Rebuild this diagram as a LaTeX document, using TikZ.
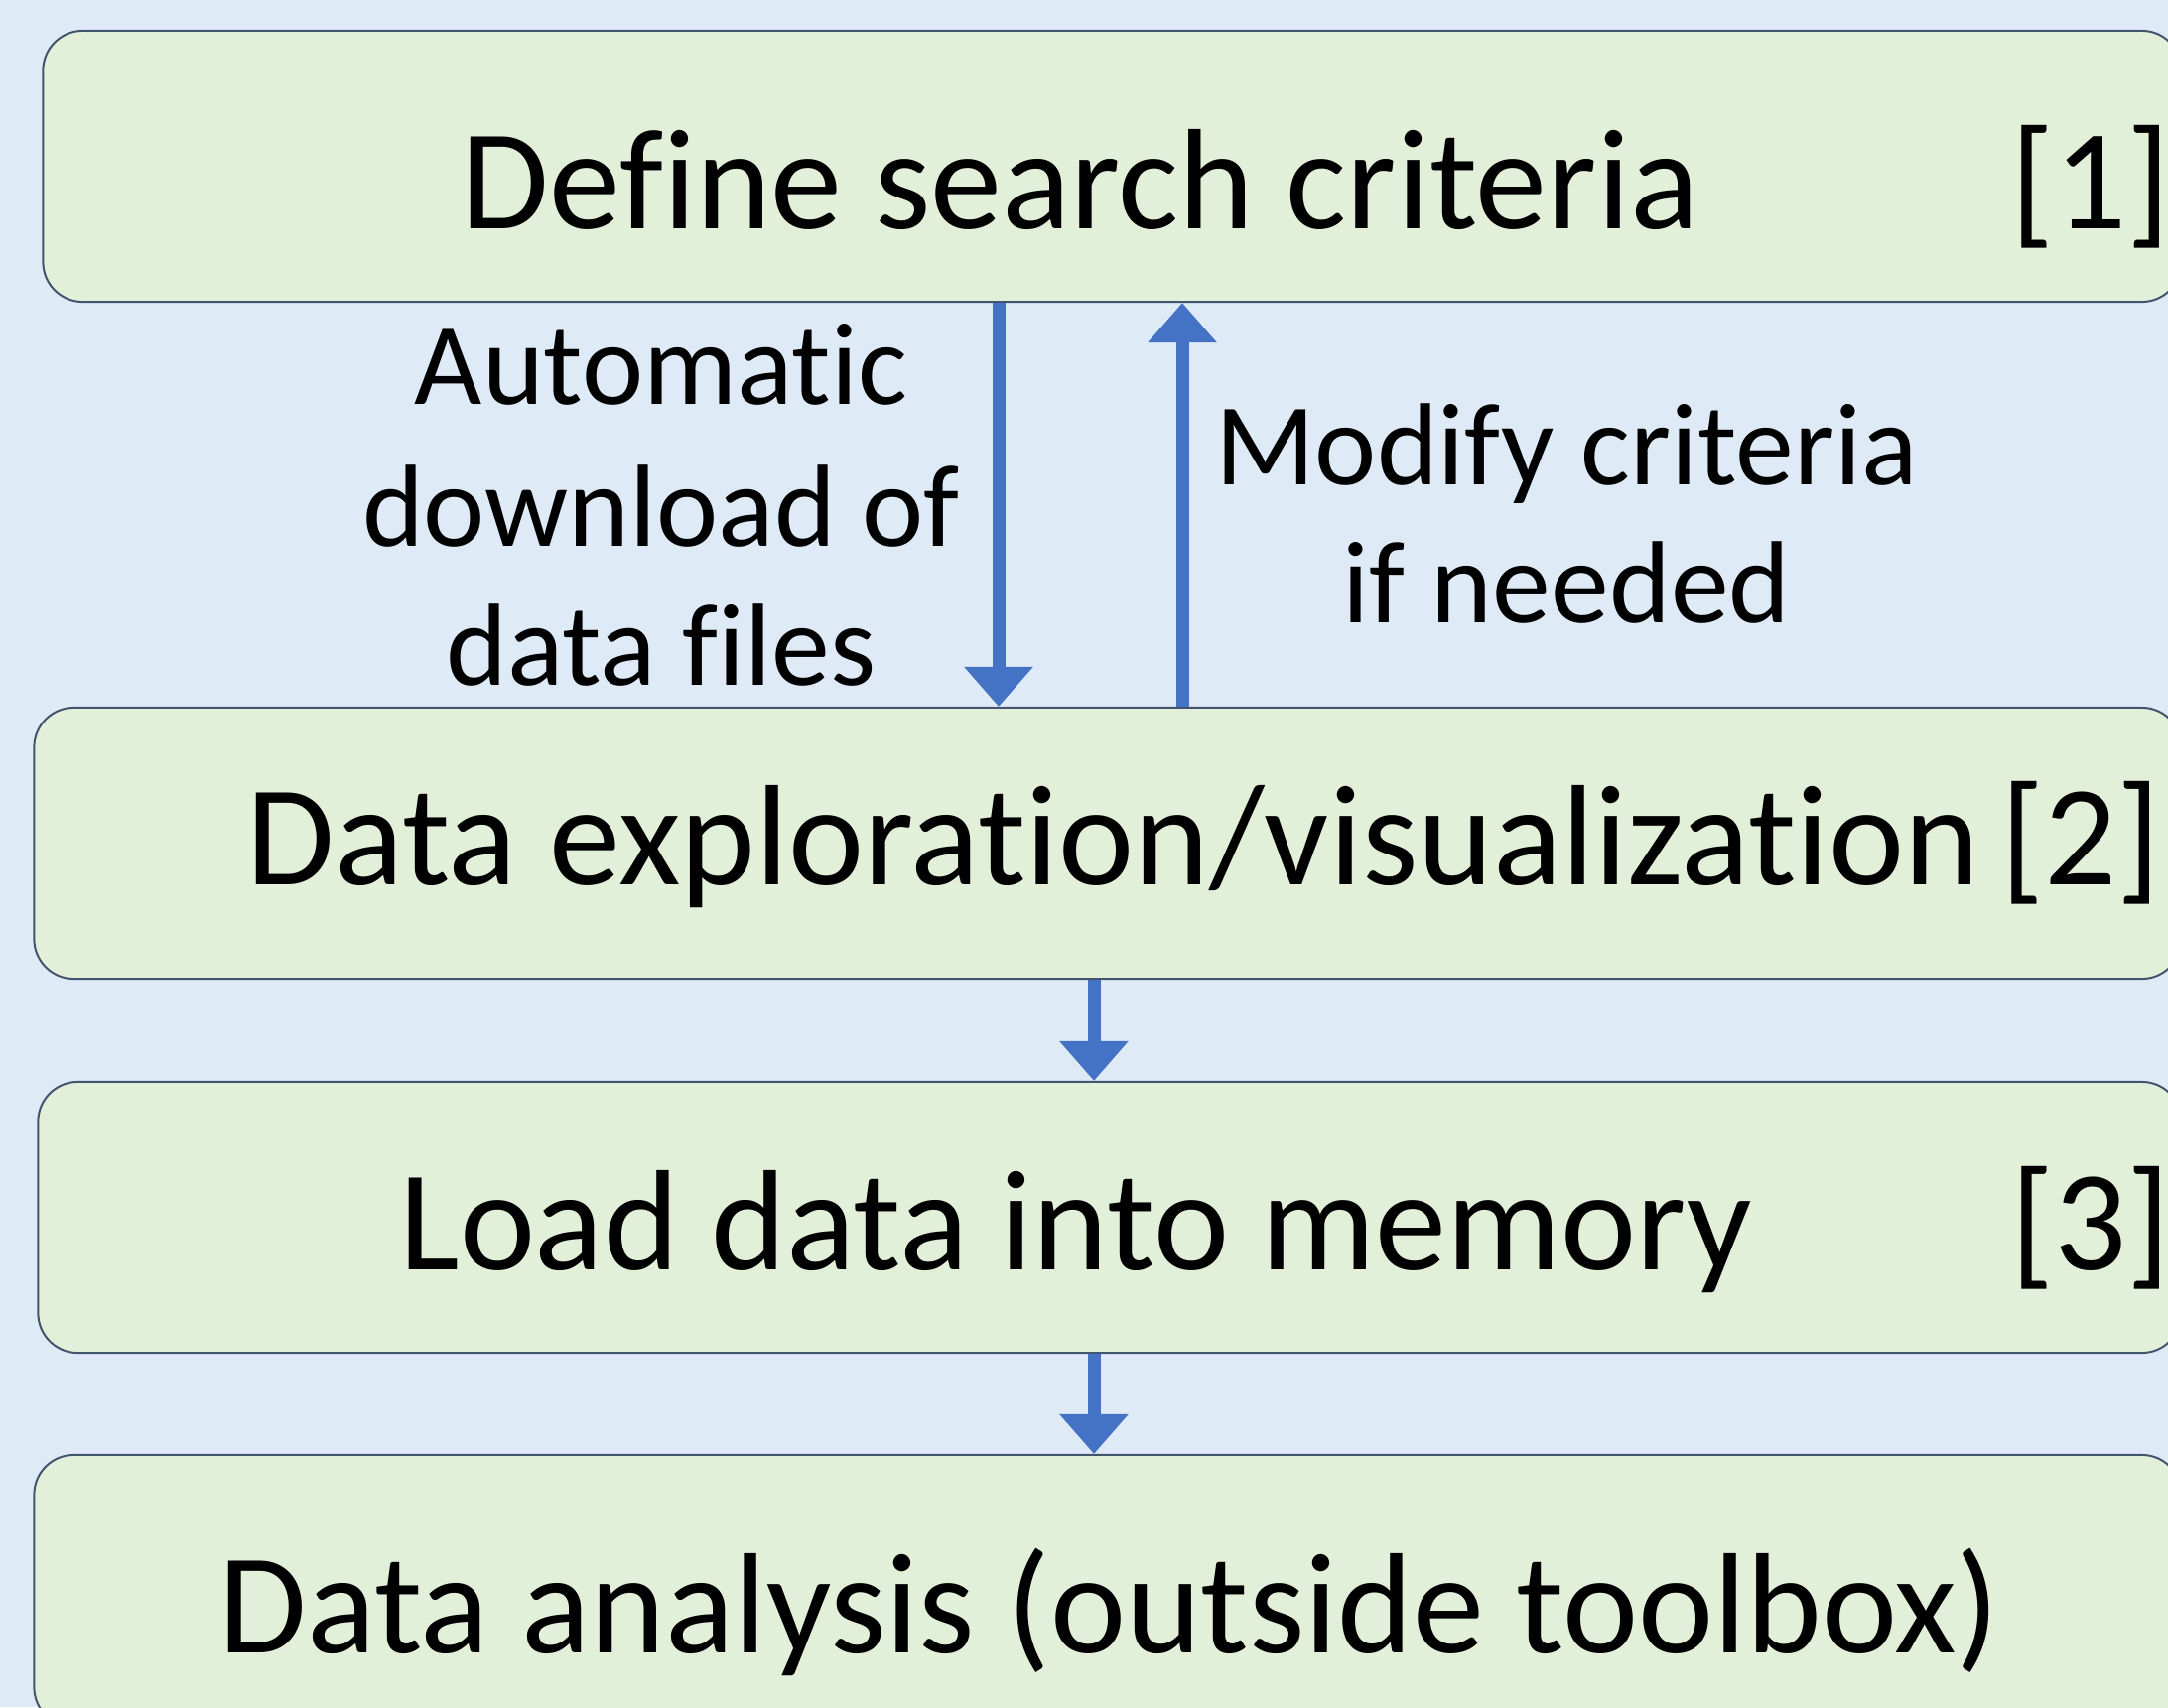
\documentclass[tikz,border=0pt]{standalone}
\usepackage{fontspec}
\setmainfont{Carlito}[Ligatures=NoCommon]
\usetikzlibrary{arrows.meta}
\definecolor{bgblue}{RGB}{222,235,247}
\definecolor{boxgreen}{RGB}{226,239,217}
\definecolor{boxline}{RGB}{68,84,110}
\definecolor{arrowblue}{RGB}{68,114,196}
\tikzset{
  stepbox/.style={rectangle, rounded corners=0.4cm, draw=boxline, line width=0.02cm, fill=boxgreen, inner sep=0pt},
  boxtext/.style={anchor=base, inner sep=0pt, font=\fontsize{41}{49}\selectfont},
  labeltext/.style={anchor=base, inner sep=0pt, align=center, font=\fontsize{33.5}{40}\selectfont},
  flow/.style={draw=arrowblue, line width=0.13cm, -{Triangle[width=0.67cm,length=0.4cm]}}
}
\begin{document}
\begin{tikzpicture}[x=0.01cm,y=-0.01cm]
\useasboundingbox (0,0) rectangle (2184,1720);
\clip (0,0) rectangle (2184,1720);
\fill[bgblue] (0,0) rectangle (2184,1720);
\node[stepbox, minimum width=21.53cm, minimum height=2.73cm] (b1) at (1120.5,167.5) {};
\node[stepbox, minimum width=21.62cm, minimum height=2.73cm] (b2) at (1116,849.5) {};
\node[stepbox, minimum width=21.58cm, minimum height=2.73cm] (b3) at (1118,1226.5) {};
\node[stepbox, minimum width=21.62cm, minimum height=2.74cm] (b4) at (1116,1603) {};

\node[boxtext] (t1) at (1088,230) {Define search criteria};
\node[boxtext] (n1) at (2106,230) {[1]};
\node[boxtext] (t2) at (1122,891) {Data exploration/visualization};
\node[boxtext] (n2) at (2096,891) {[2]};
\node[boxtext] (t3) at (1084,1279) {Load data into memory};
\node[boxtext] (n3) at (2106,1279) {[3]};
\node[boxtext] (t4) at (1118,1665) {Data analysis (outside toolbox)};

\node[labeltext] (l1a) at (666,407) {Automatic};
\node[labeltext] (l1b) at (666,550) {download of};
\node[labeltext] (l1c) at (666,690) {data files};
\node[labeltext] (l2a) at (1578,488) {Modify criteria};
\node[labeltext] (l2b) at (1578,627) {if needed};

\draw[flow] (b1.south -| 1006,0) -- (b2.north -| 1006,0);
\draw[flow] (b2.north -| 1191,0) -- (b1.south -| 1191,0);
\draw[flow] (b2.south -| 1102,0) -- (b3.north -| 1102,0);
\draw[flow] (b3.south -| 1102,0) -- (b4.north -| 1102,0);
\end{tikzpicture}
\end{document}
